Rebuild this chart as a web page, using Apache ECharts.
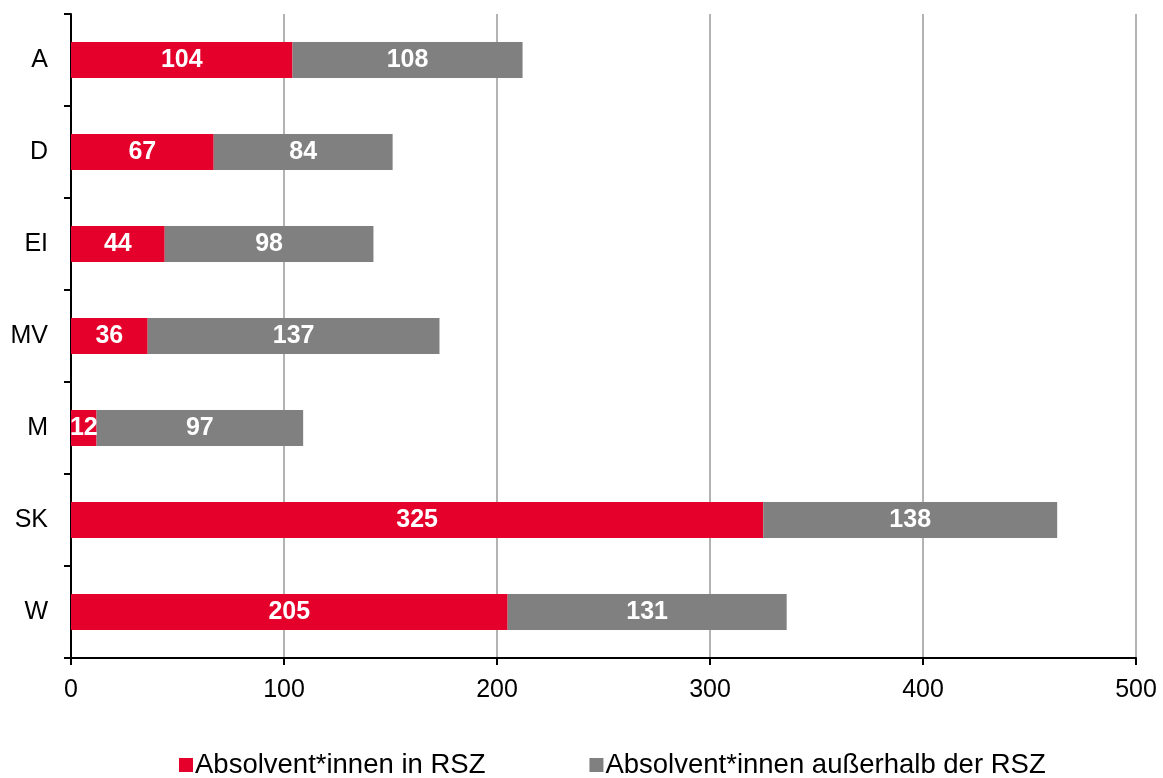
<!DOCTYPE html>
<html>
<head>
<meta charset="utf-8">
<script src="https://cdn.jsdelivr.net/npm/echarts@6/dist/echarts.min.js"></script>
<style>
  html, body { margin: 0; padding: 0; background: #fff; }
  #chart { width: 1163px; height: 778px; }
</style>
</head>
<body>
<div id="chart"></div>
<script>
// Kategorien (von oben nach unten)
const categories = ['A', 'D', 'EI', 'MV', 'M', 'SK', 'W'];
// Absolvent*innen in RSZ
const inRsz = [104, 67, 44, 36, 12, 325, 205];
// Absolvent*innen außerhalb der RSZ
const outRsz = [108, 84, 98, 137, 97, 138, 131];
const xTicks = [0, 100, 200, 300, 400, 500];

const seriesNames = ['Absolvent*innen in RSZ', 'Absolvent*innen außerhalb der RSZ'];
const font = 'Liberation Sans, Arial, sans-serif';

let chart = echarts.init(document.getElementById('chart'));

const barLabel = {
    show: true,
    position: 'inside',
    color: '#fff',
    fontSize: 25,
    fontWeight: 'bold',
    fontFamily: font
};

chart.setOption({
    animation: false,
    grid: { left: 71, right: 27, top: 14, bottom: 120 },
    legend: {
        bottom: -6,
        left: 174,
        itemGap: 104,
        itemWidth: 14,
        itemHeight: 14,
        icon: 'rect',
        textStyle: { fontSize: 27.5, color: '#000', fontFamily: font, padding: [0, 0, 0, -3] },
        data: seriesNames
    },
    xAxis: {
        type: 'value',
        min: 0,
        max: 500,
        interval: 100,
        axisLine: { show: true, lineStyle: { color: '#000', width: 2 } },
        axisTick: { show: true, length: 7, lineStyle: { color: '#000', width: 2 } },
        axisLabel: {
            fontSize: 25, color: '#000', fontFamily: font, margin: 20,
            formatter: v => xTicks.includes(v) ? String(v) : ''
        },
        splitLine: { show: true, lineStyle: { color: '#b3b3b3', width: 2 } }
    },
    yAxis: {
        type: 'category',
        inverse: true,
        data: categories,
        axisLine: { show: true, lineStyle: { color: '#000', width: 2 } },
        axisTick: { show: true, length: 7, lineStyle: { color: '#000', width: 2 } },
        axisLabel: { fontSize: 25, color: '#000', fontFamily: font, margin: 23 }
    },
    series: [
        {
            name: seriesNames[0],
            type: 'bar',
            stack: 'total',
            barWidth: 36,
            itemStyle: { color: '#e4002b' },
            label: barLabel,
            data: inRsz
        },
        {
            name: seriesNames[1],
            type: 'bar',
            stack: 'total',
            barWidth: 36,
            itemStyle: { color: '#808080' },
            label: barLabel,
            data: outRsz
        }
    ]
});
</script>
</body>
</html>
